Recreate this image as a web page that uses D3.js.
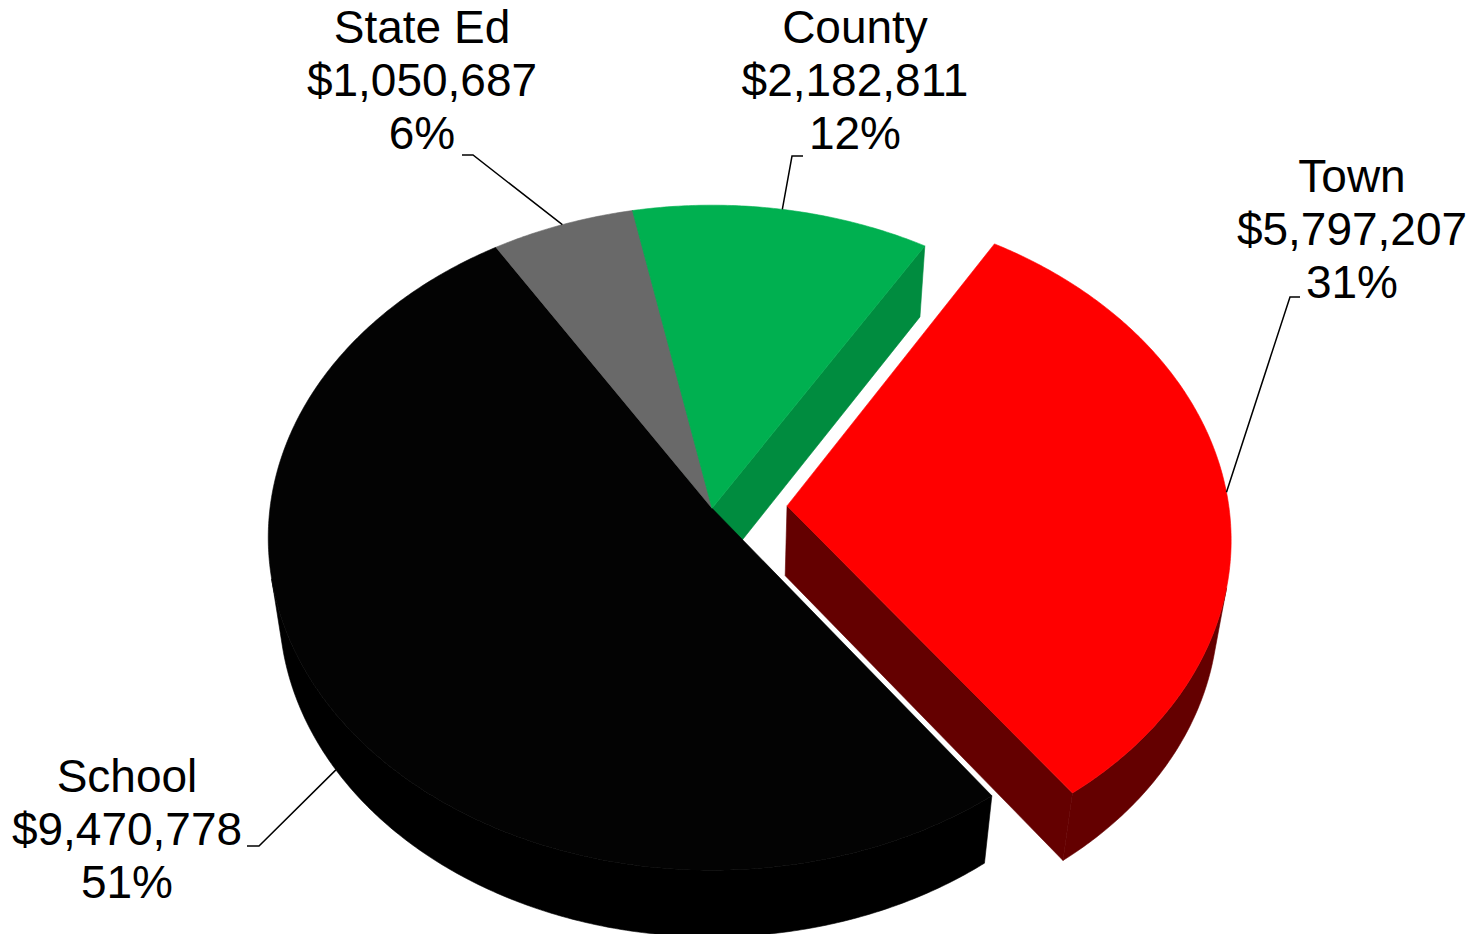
<!DOCTYPE html>
<html>
<head>
<meta charset="utf-8">
<script src="https://cdn.jsdelivr.net/npm/d3@7"></script>
<style>
  html, body { margin: 0; padding: 0; background: #fff; }
  svg { display: block; }
  text { font-family: "Liberation Sans", Arial, sans-serif; }
</style>
</head>
<body>
<div id="chart"></div>
<script>
// data
const categories = ['School', 'State Ed', 'County', 'Town'];
const amounts = [9470778, 1050687, 2182811, 5797207];
const topColors = ['#030303', '#696969', '#00B050', '#FF0000'];
const sideColors = ['#000000', '#4a4a4a', '#008C3F', '#640000'];
const explodeOffsets = [0, 0, 0, 0.17];

// label layout: text centre, first baseline, leader elbow, anchor level (1 = top rim, 0 = bottom rim)
const labelLayout = [
  { x: 127, y: 792, elbow: [[247, 846], [259, 846]], level: 0 },
  { x: 422, y: 43, elbow: [[462, 155], [473, 155]], level: 1 },
  { x: 855, y: 43, elbow: [[803, 156], [792, 156]], level: 1 },
  { x: 1352, y: 192, elbow: [[1300, 297], [1290, 297]], level: 1 }
];

const width = 1483;
const height = 934;

// camera for the tilted pie (unit radius)
const cam = {
  cx: 712,
  cy: 578,
  focal: 3240,
  dist: 7.515,
  elev: 49.5 * Math.PI / 180,
  thick: 0.243
};
const sinE = Math.sin(cam.elev);
const cosE = Math.cos(cam.elev);
const camZ = cam.dist * cosE;

function project(x, y, z) {
  const up = y * cosE - z * sinE;
  const depth = cam.dist - y * sinE - z * cosE;
  return [cam.cx + cam.focal * x / depth, cam.cy - cam.focal * up / depth, depth];
}

const step = Math.PI / 360;
function angles(a0, a1) {
  const n = Math.max(2, Math.ceil((a1 - a0) / step));
  return d3.range(n + 1).map((i) => a0 + (a1 - a0) * i / n);
}

const line = d3.line();
const poly = (pts) => line(pts) + 'Z';

const total = d3.sum(amounts);
const money = d3.format('$,');

const startAngle = 144 * Math.PI / 180;
const arcs = d3.pie()
  .sort(null)
  .startAngle(startAngle)
  .endAngle(startAngle + 2 * Math.PI)(amounts);

const slices = arcs.map((a, i) => {
  const p0 = a.startAngle - Math.PI / 2;
  const p1 = a.endAngle - Math.PI / 2;
  const mid = (p0 + p1) / 2;
  const ox = explodeOffsets[i] * Math.cos(mid);
  const oz = explodeOffsets[i] * Math.sin(mid);
  return { i, p0, p1, mid, ox, oz };
});

const svg = d3.select('#chart')
  .append('svg')
  .attr('width', width)
  .attr('height', height);

// side faces
const sides = [];
slices.forEach((s) => {
  const rim = (p, y) => project(s.ox + Math.cos(p), y, s.oz + Math.sin(p));
  const centre = (y) => project(s.ox, y, s.oz);

  // radial cut faces
  [[s.p0, s.p0 - Math.PI / 2], [s.p1, s.p1 + Math.PI / 2]].forEach(([p, n]) => {
    const nx = Math.cos(n);
    const nz = Math.sin(n);
    if (-s.ox * nx + (camZ - s.oz) * nz <= 0) return;
    const pts = [centre(0), centre(cam.thick), rim(p, cam.thick), rim(p, 0)];
    sides.push({ i: s.i, pts, depth: d3.mean(pts, (d) => d[2]) });
  });

  // outer wall, only the parts that face the camera
  const visible = (p) => (-s.ox - Math.cos(p)) * Math.cos(p) + (camZ - s.oz - Math.sin(p)) * Math.sin(p) > 0;
  let run = [];
  const flush = () => {
    if (run.length > 1) {
      const pts = run.map((p) => rim(p, cam.thick)).concat(run.slice().reverse().map((p) => rim(p, 0)));
      sides.push({ i: s.i, pts, depth: d3.mean(pts, (d) => d[2]) });
    }
    run = [];
  };
  angles(s.p0, s.p1).forEach((p) => {
    if (visible(p)) run.push(p);
    else flush();
  });
  flush();
});

sides.sort((a, b) => b.depth - a.depth);

svg.append('g')
  .selectAll('path')
  .data(sides)
  .join('path')
  .attr('d', (d) => poly(d.pts.map((p) => [p[0], p[1]])))
  .attr('fill', (d) => sideColors[d.i])
  .attr('stroke', (d) => sideColors[d.i])
  .attr('stroke-width', 0.6)
  .attr('stroke-linejoin', 'round');

// top faces
svg.append('g')
  .selectAll('path')
  .data(slices)
  .join('path')
  .attr('d', (s) => {
    const pts = [project(s.ox, cam.thick, s.oz)]
      .concat(angles(s.p0, s.p1).map((p) => project(s.ox + Math.cos(p), cam.thick, s.oz + Math.sin(p))));
    return poly(pts.map((p) => [p[0], p[1]]));
  })
  .attr('fill', (s) => topColors[s.i])
  .attr('stroke', (s) => topColors[s.i])
  .attr('stroke-width', 0.6)
  .attr('stroke-linejoin', 'round');

// leader lines
svg.append('g')
  .selectAll('path')
  .data(slices)
  .join('path')
  .attr('d', (s) => {
    const lay = labelLayout[s.i];
    const a = project(s.ox + Math.cos(s.mid), cam.thick * lay.level, s.oz + Math.sin(s.mid));
    return line([lay.elbow[0], lay.elbow[1], [a[0], a[1]]]);
  })
  .attr('fill', 'none')
  .attr('stroke', '#000')
  .attr('stroke-width', 1.5);

// labels
const labels = svg.append('g')
  .selectAll('text')
  .data(slices)
  .join('text')
  .attr('x', (s) => labelLayout[s.i].x)
  .attr('y', (s) => labelLayout[s.i].y)
  .attr('text-anchor', 'middle')
  .attr('font-size', 46)
  .attr('fill', '#000');

labels.selectAll('tspan')
  .data((s) => [
    categories[s.i],
    money(amounts[s.i]),
    Math.round(amounts[s.i] / total * 100) + '%'
  ])
  .join('tspan')
  .attr('x', function () { return d3.select(this.parentNode).attr('x'); })
  .attr('dy', (d, j) => (j === 0 ? 0 : 53))
  .text((d) => d);
</script>
</body>
</html>
